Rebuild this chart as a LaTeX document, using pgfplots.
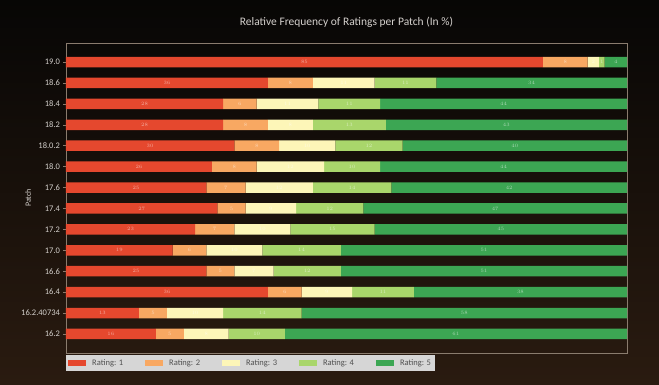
\documentclass[border=0pt]{standalone}
\usepackage{fontspec}
\setmainfont{Carlito}
\usepackage{pgfplots}
\pgfplotsset{compat=1.18}
\usepackage{pgfplotstable}
\definecolor{cR1}{HTML}{E5482E}
\definecolor{cR2}{HTML}{F8A862}
\definecolor{cR3}{HTML}{FDF6B8}
\definecolor{cR4}{HTML}{A9D66B}
\definecolor{cR5}{HTML}{3CA653}
\definecolor{bgtop}{HTML}{070605}
\definecolor{bgbot}{HTML}{2A1B10}
\definecolor{framecol}{HTML}{8A7C6E}
\definecolor{ticktext}{HTML}{D4D0CC}
\definecolor{legbg}{HTML}{D6D6D6}
\definecolor{legtext}{HTML}{505050}

\pgfplotstableread{
idx r1 r2 r3 r4 r5
0  16 5 8 10 61
1  13 5 10 14 58
2  36 6 9 11 38
3  25 5 7 12 51
4  19 6 10 14 51
5  23 7 10 15 45
6  27 5 9 12 47
7  25 7 12 14 42
8  26 8 12 10 44
9  30 8 10 12 40
10 28 8 8 13 43
11 28 6 11 11 44
12 36 8 11 11 34
13 85 8 2 1 4
}\data

\pgfplotsset{
  frame/.style={at={(0pt,0pt)}, anchor=south west,
    scale only axis, width=561pt, height=310pt,
    xmin=0, xmax=100, ymin=-0.91, ymax=13.91},
  seglabel/.style={draw=none, mark=none, forget plot,
    nodes near coords={\pgfmathprintnumber{\pgfplotspointmeta}},
    point meta=explicit,
    every node near coord/.style={anchor=center, font=\fontsize{3.5}{4}\selectfont, text=white, opacity=0.55}},
}

\begin{document}
\begin{tikzpicture}
\shade[top color=bgtop, bottom color=bgbot] (-66pt,-31pt) rectangle (593pt,353pt);
\useasboundingbox (-66pt,-31pt) rectangle (593pt,353pt);
\begin{axis}[
  frame,
  xbar stacked, bar width=10.5pt,
  xtick=\empty,
  ytick={0,...,13},
  yticklabels={16.2,16.2.40734,16.4,16.6,17.0,17.2,17.4,17.6,18.0,18.0.2,18.2,18.4,18.6,19.0},
  ytick pos=left, tick align=outside, major tick length=2.5pt,
  tick style={draw=framecol, line width=0.5pt},
  axis line style={draw=framecol, line width=0.6pt},
  yticklabel style={font=\fontsize{8.5}{10}\selectfont, text=ticktext},
  title={Relative Frequency of Ratings per Patch (In \%)},
  title style={at={(axis description cs:0.5,1)}, anchor=center, yshift=15pt, font=\fontsize{11.5}{13}\selectfont, text=ticktext},
  ylabel={Patch},
  every axis y label/.style={at={(axis description cs:-0.0677,0.5)}, anchor=center, rotate=90, font=\fontsize{8}{9}\selectfont, text=ticktext},
  legend style={at={(0,0)}, anchor=north west, yshift=-2pt, legend columns=5, fill=legbg, draw=none,
    font=\fontsize{8.5}{10}\selectfont, text=legtext, inner sep=2pt,
    /tikz/every odd column/.append style={column sep=4pt},
    /tikz/every even column/.append style={column sep=20pt}},
]
\addplot+[fill=cR1, draw=none,
  legend image code/.code={\fill[cR1] (0pt,-2.8pt) rectangle (18pt,2.8pt);}]
  table[x=r1, y=idx] {\data};
\addlegendentry{Rating: 1}
\addplot+[fill=cR2, draw=none,
  legend image code/.code={\fill[cR2] (0pt,-2.8pt) rectangle (18pt,2.8pt);}]
  table[x=r2, y=idx] {\data};
\addlegendentry{Rating: 2}
\addplot+[fill=cR3, draw=none,
  legend image code/.code={\fill[cR3] (0pt,-2.8pt) rectangle (18pt,2.8pt);}]
  table[x=r3, y=idx] {\data};
\addlegendentry{Rating: 3}
\addplot+[fill=cR4, draw=none,
  legend image code/.code={\fill[cR4] (0pt,-2.8pt) rectangle (18pt,2.8pt);}]
  table[x=r4, y=idx] {\data};
\addlegendentry{Rating: 4}
\addplot+[fill=cR5, draw=none,
  legend image code/.code={\fill[cR5] (0pt,-2.8pt) rectangle (18pt,2.8pt);}]
  table[x=r5, y=idx] {\data};
\addlegendentry{Rating: 5}
\end{axis}
\begin{axis}[frame, hide axis]
\addplot[seglabel] table[x expr={\thisrow{r1}/2}, y=idx, meta=r1] {\data};
\addplot[seglabel] table[x expr={\thisrow{r1}+\thisrow{r2}/2}, y=idx, meta=r2] {\data};
\addplot[seglabel] table[x expr={\thisrow{r1}+\thisrow{r2}+\thisrow{r3}/2}, y=idx, meta=r3] {\data};
\addplot[seglabel] table[x expr={\thisrow{r1}+\thisrow{r2}+\thisrow{r3}+\thisrow{r4}/2}, y=idx, meta=r4] {\data};
\addplot[seglabel] table[x expr={\thisrow{r1}+\thisrow{r2}+\thisrow{r3}+\thisrow{r4}+\thisrow{r5}/2}, y=idx, meta=r5] {\data};
\end{axis}
\end{tikzpicture}
\end{document}
